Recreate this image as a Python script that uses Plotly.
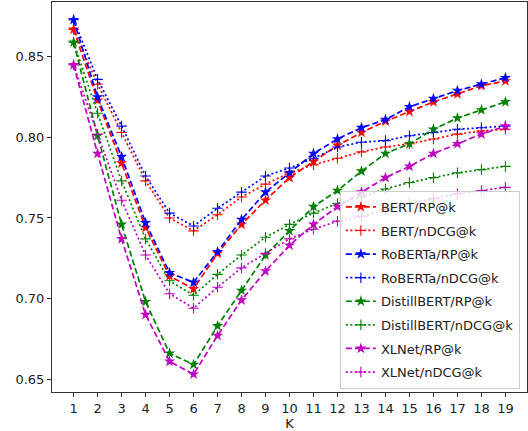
import plotly.graph_objects as go

K = list(range(1, 20))

bert_rp = [0.867, 0.823, 0.784, 0.744, 0.714, 0.706, 0.728, 0.746, 0.761, 0.775,
           0.785, 0.795, 0.803, 0.810, 0.816, 0.822, 0.827, 0.832, 0.835]
bert_ndcg = [0.867, 0.833, 0.803, 0.773, 0.750, 0.742, 0.752, 0.763, 0.771, 0.778,
             0.783, 0.787, 0.791, 0.794, 0.796, 0.799, 0.802, 0.804, 0.805]
roberta_rp = [0.873, 0.825, 0.788, 0.747, 0.716, 0.710, 0.729, 0.749, 0.766, 0.778,
              0.790, 0.799, 0.806, 0.811, 0.819, 0.824, 0.829, 0.833, 0.837]
roberta_ndcg = [0.873, 0.836, 0.807, 0.776, 0.753, 0.745, 0.756, 0.766, 0.776, 0.781,
                0.787, 0.794, 0.797, 0.798, 0.801, 0.803, 0.805, 0.806, 0.807]
distil_rp = [0.859, 0.801, 0.746, 0.698, 0.666, 0.659, 0.683, 0.705, 0.727, 0.742,
             0.757, 0.767, 0.779, 0.790, 0.796, 0.805, 0.812, 0.817, 0.822]
distil_ndcg = [0.859, 0.815, 0.773, 0.737, 0.711, 0.702, 0.715, 0.727, 0.738, 0.746,
               0.753, 0.759, 0.763, 0.768, 0.772, 0.775, 0.778, 0.780, 0.782]
xlnet_rp = [0.845, 0.790, 0.737, 0.690, 0.661, 0.653, 0.677, 0.699, 0.717, 0.733,
            0.746, 0.757, 0.766, 0.775, 0.782, 0.790, 0.796, 0.802, 0.807]
xlnet_ndcg = [0.845, 0.802, 0.761, 0.727, 0.703, 0.694, 0.707, 0.719, 0.728, 0.737,
              0.743, 0.748, 0.751, 0.755, 0.759, 0.762, 0.765, 0.767, 0.769]

y_ticks = [0.65, 0.70, 0.75, 0.80, 0.85]

series = [
    ("BERT/RP@k", bert_rp, "#ff0000", "rp"),
    ("BERT/nDCG@k", bert_ndcg, "#ff0000", "ndcg"),
    ("RoBERTa/RP@k", roberta_rp, "#0000ff", "rp"),
    ("RoBERTa/nDCG@k", roberta_ndcg, "#0000ff", "ndcg"),
    ("DistillBERT/RP@k", distil_rp, "#008000", "rp"),
    ("DistillBERT/nDCG@k", distil_ndcg, "#008000", "ndcg"),
    ("XLNet/RP@k", xlnet_rp, "#bf00bf", "rp"),
    ("XLNet/nDCG@k", xlnet_ndcg, "#bf00bf", "ndcg"),
]

fig = go.Figure()
for name, vals, color, kind in series:
    if kind == "rp":
        line = dict(color=color, width=1.7, dash="6px,3px")
        marker = dict(symbol="star", size=8.5, color=color, line=dict(width=0))
    else:
        line = dict(color=color, width=1.7, dash="2px,2.5px")
        marker = dict(symbol="cross-thin", size=7.5, color=color,
                      line=dict(width=1.1, color=color))
    fig.add_trace(go.Scatter(x=K, y=vals, name=name, mode="lines+markers",
                             legendgroup=name, line=line, marker=marker))

axis_common = dict(showgrid=False, zeroline=False, showline=True, linecolor="#333333",
                   linewidth=1, mirror=True, ticks="outside", ticklen=4,
                   tickcolor="#333333", tickfont=dict(family="DejaVu Sans", size=13,
                                                      color="#222222"))

fig.update_layout(
    width=528, height=431,
    margin=dict(l=52, r=1, t=2, b=39),
    paper_bgcolor="white", plot_bgcolor="white",
    font=dict(family="DejaVu Sans", size=13, color="#222222"),
    xaxis=dict(range=[0.1, 19.9], tickmode="array", tickvals=K,
               title=dict(text="K", standoff=3, font=dict(size=13)), **axis_common),
    yaxis=dict(range=[0.642, 0.884], tickmode="array", tickvals=y_ticks,
               tickformat=".2f", **axis_common),
    legend=dict(x=0.985, y=0.008, xanchor="right", yanchor="bottom",
                bgcolor="rgba(255,255,255,0.8)", bordercolor="#cccccc", borderwidth=1,
                font=dict(family="DejaVu Sans", size=13, color="#222222"),
                tracegroupgap=3.7, itemwidth=30),
    showlegend=True,
)

fig.write_html("out.html", config={"displayModeBar": False},
               post_script="document.body.style.margin='0';document.body.style.overflow='hidden';")
